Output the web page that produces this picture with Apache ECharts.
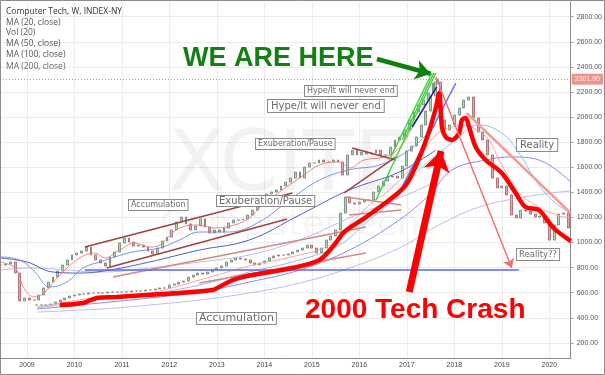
<!DOCTYPE html>
<html><head><meta charset="utf-8">
<script src="https://cdn.jsdelivr.net/npm/echarts@6/dist/echarts.min.js"></script>
<style>html,body{margin:0;padding:0;background:#fff}#c{width:605px;height:375px}</style>
</head><body><div id="c"></div>
<script>
// ---------- data ----------
const yearTicks = [2009,2010,2011,2012,2013,2014,2015,2016,2017,2018,2019,2020];
const priceTicks = [200,400,600,800,1000,1200,1400,1600,1800,2000,2200,2400,2600,2800];
const lastPrice = 2301.9;

// Computer Tech weekly closes, sampled every 0.1 year
const aStart = 2008.45, bStart = 2009.2, step = 0.1;
const aClose = [821,829,845,757,534,558,542,542,582,638,
685,725,773,821,861,901,916,932,964,901,
861,837,813,885,925,996,1036,1004,972,980,
964,932,909,956,1012,1044,1100,1164,1203,1148,
1100,1132,1188,1124,1076,1100,1084,1116,1156,1180,
1180,1188,1219,1259,1307,1355,1387,1403,1419,1451,
1482,1514,1562,1514,1602,1634,1634,1658,1642,1642,
1658,1642,1538,1698,1737,1698,1721,1706,1714,1737,
1698,1698,1761,1817,1841,1897,1977,2040,2096,2136,
2192,2271,2302];
// 2000 tech crash overlay
const bClose = [502,502,502,510,526,542,558,574,582,590,
590,598,598,598,598,606,606,606,606,606,
614,614,614,622,622,630,638,638,661,669,
685,693,725,741,757,749,765,781,797,813,
845,861,877,869,861,837,821,837,853,877,
893,901,901,909,925,940,956,980,956,917,
956,1020,1052,1100,1235,1363,1315,1307,1323,1339,
1339,1403,1451,1490,1522,1530,1514,1610,1729,1769,
1841,1937,2048,2168,2279,1977,1897,1937,2016,2072,
2136,2160,1993,1881,1817,1698,1514,1435,1451,1379,
1219,1196,1259,1251,1227,1203,1211,1156,1020,1140,
1227,1235,1116];

const aMA20 = [[2008.43,845],[2008.75,797],[2008.96,622],[2009.17,566],[2009.38,606],[2009.69,741],[2010.11,877],[2010.43,917],[2010.64,877],[2010.95,940],[2011.27,996],[2011.58,964],[2011.79,980],[2012.21,1116],[2012.63,1140],[2012.95,1116],[2013.37,1140],[2013.68,1196],[2014.00,1315],[2014.32,1403],[2014.74,1514],[2015.16,1618],[2015.58,1642],[2015.79,1594],[2016.10,1658],[2016.52,1682],[2016.84,1753],[2017.15,1937],[2017.47,2136],[2017.61,2232]];
const aMA50 = [[2008.43,885],[2008.85,861],[2009.17,765],[2009.48,646],[2009.84,685],[2010.18,797],[2010.53,845],[2011.23,925],[2011.79,956],[2012.21,1020],[2012.63,1084],[2013.26,1084],[2013.89,1164],[2014.53,1339],[2015.16,1498],[2015.79,1580],[2016.42,1618],[2017.05,1737],[2017.61,1937]];
const aMA100 = [[2008.43,877],[2009.00,845],[2009.55,765],[2010.11,757],[2010.74,781],[2011.58,845],[2012.63,940],[2013.68,1020],[2014.74,1219],[2015.79,1419],[2016.84,1562],[2017.61,1737]];
const aMA200 = [[2008.43,781],[2009.13,797],[2009.84,781],[2010.53,765],[2011.58,797],[2012.63,845],[2013.68,901],[2014.74,1020],[2015.79,1196],[2016.84,1355],[2017.61,1482]];
const bMA20 = [[2009.21,486],[2010.53,566],[2011.58,598],[2012.63,701],[2013.68,813],[2014.74,901],[2015.37,980],[2015.79,1140],[2016.21,1299],[2016.63,1419],[2017.05,1578],[2017.36,1737],[2017.61,1857],[2017.89,1913],[2018.20,1937],[2018.47,1897],[2018.73,1817],[2018.94,1658],[2019.15,1522],[2019.36,1395],[2019.78,1283],[2020.05,1235],[2020.34,1203],[2020.45,1203]];
const bMA50 = [[2009.21,478],[2010.53,550],[2011.58,590],[2012.63,661],[2013.68,765],[2014.74,861],[2015.58,980],[2016.21,1180],[2016.84,1379],[2017.26,1578],[2017.95,1793],[2018.52,1937],[2019.00,1873],[2019.36,1714],[2019.71,1498],[2020.05,1339],[2020.45,1235]];
const bMA100 = [[2009.21,470],[2010.53,518],[2011.58,558],[2012.63,606],[2013.68,685],[2014.74,781],[2015.79,940],[2016.84,1180],[2017.47,1379],[2017.95,1578],[2018.66,1658],[2019.21,1682],[2019.78,1658],[2020.45,1482]];
const bMA200 = [[2009.21,446],[2010.53,470],[2011.58,502],[2012.63,542],[2013.68,598],[2014.74,677],[2015.79,797],[2016.84,956],[2017.68,1140],[2018.52,1283],[2019.36,1355],[2020.05,1395],[2020.45,1411]];
const handTrend = [[2009.69,502],[2010.18,518],[2010.47,558],[2010.89,566],[2011.52,582],[2012.21,598],[2012.91,622],[2013.05,646],[2013.33,701],[2013.75,741],[2014.59,797],[2015.16,861],[2015.47,980],[2015.68,1084],[2016.14,1203],[2016.63,1339],[2016.98,1459],[2017.26,1674],[2017.47,1889],[2017.61,2072],[2017.68,2192],[2017.74,1921],[2017.82,1841],[2017.95,1817],[2018.10,1873],[2018.16,1977],[2018.24,1993],[2018.31,1921],[2018.45,1761],[2018.66,1658],[2019.00,1554],[2019.29,1395],[2019.50,1283],[2019.78,1259],[2020.09,1116],[2020.45,1012]];

const maroonLines = [[[2010.22,964],[2014.59,1395]],[[2010.68,797],[2014.48,1188]],[[2015.68,1395],[2016.77,1682]],[[2015.85,1753],[2016.77,1658]]];
const rosyLines = [[[2010.81,725],[2016.14,1124]],[[2012.63,677],[2016.14,917]],[[2015.72,1363],[2016.88,1299]],[[2015.79,1219],[2016.88,1259]]];
const greenLines = [[[2016.35,1339],[2017.61,2351]],[[2016.63,1658],[2017.53,2351]],[[2016.90,1817],[2017.57,2351]]];
const blueLines = [[[2016.90,1443],[2018.03,2271]]];
const navyLines = [[[2017.11,1921],[2017.63,2240]]];
const salmonLines = [[[2018.26,2032],[2020.45,1235]]];
const supportLine = [[[2010.22,781],[2019.36,781]]];
const realityArrow = [[[2017.61,2319],[2019.21,797]]];
const hereArrow = [[[2016.37,2463],[2017.50,2345]]];
const crashArrow = [[[2017.05,606],[2017.72,1730]]];

// ---------- build ----------
function candles(start, closes){
  return closes.map((c,i)=>{const o = i ? closes[i-1] : c; return [start + i*step, o, c, Math.min(o,c), Math.max(o,c)];});
}
function segs(a){ return a.map(s=>({coords:s})); }
function maLine(data,color,w){
  return {type:'line', data, smooth:0.4, showSymbol:false, silent:true, z:3,
    lineStyle:{color, width:w||1, opacity:0.9}};
}
function lineSet(a,color,w,extra){
  return Object.assign({type:'lines', coordinateSystem:'cartesian2d', polyline:false, silent:true, z:6,
    data:segs(a), lineStyle:{color, width:w, opacity:1}}, extra||{});
}
const candleStyle = {color:'#a6dcb0', color0:'#f2a4a4', borderColor:'#6f7f72', borderColor0:'#9a6060', borderWidth:0.8};

function box(text,x,y,size,pad){
  return {type:'text', x, y, z:100, style:{text, fontFamily:'DejaVu Sans', fontSize:size, fill:'#6b6b6b',
    backgroundColor:'#fff', borderColor:'#8a8a8a', borderWidth:1, padding:pad||[1,3], verticalAlign:'top'}};
}
function legendText(text,y,col){
  return {type:'text', x:6, y, z:100, style:{text, fontFamily:'Open Sans', fontSize:8.5, fill:col||'#555', verticalAlign:'middle'}};
}

const chart = echarts.init(document.getElementById('c'), null, {renderer:'canvas'});
chart.setOption({
  animation:false,
  backgroundColor:'#fff',
  grid:{left:0, right:33, top:2, bottom:17},
  xAxis:{type:'value', min:2008.433, max:2020.45,
    axisLine:{show:true, lineStyle:{color:'#8a8a8a'}},
    axisTick:{show:false, customValues:yearTicks},
    axisLabel:{customValues:yearTicks, formatter:v=>String(Math.round(v)), fontSize:7, color:'#444', margin:4, fontFamily:'Liberation Sans'},
    splitLine:{show:true, lineStyle:{color:'#ececec'}}},
  yAxis:{type:'value', position:'right', min:80, max:2917,
    axisLine:{show:true, lineStyle:{color:'#8a8a8a'}},
    axisTick:{show:true, length:3, customValues:priceTicks, lineStyle:{color:'#aaa'}},
    axisLabel:{customValues:priceTicks, formatter:v=>v.toFixed(2), fontSize:7, color:'#555', margin:6, fontFamily:'Liberation Sans'},
    splitLine:{show:true, lineStyle:{color:'#ececec'}}},
  series:[
    {type:'candlestick', name:'Computer Tech', data:candles(aStart,aClose), barWidth:2.4, itemStyle:candleStyle, z:2, silent:true,
      markLine:{silent:true, symbol:['none','none'], data:[{yAxis:lastPrice}],
        lineStyle:{color:'#f07a70', type:[1,2], width:1, opacity:0.9},
        label:{position:'end', distance:1, formatter:()=>lastPrice.toFixed(2), color:'#fff', backgroundColor:'#ec8a7e', padding:[2,3], fontSize:7, fontFamily:'Liberation Sans'}}},
    {type:'candlestick', name:'2000 overlay', data:candles(bStart,bClose), barWidth:2.4, itemStyle:candleStyle, z:2, silent:true},
    maLine(aMA200,'#b9b3ea'), maLine(aMA100,'#3c4fb8'), maLine(aMA50,'#6f8ae2'), maLine(aMA20,'#f07a7a'),
    maLine(bMA200,'#b9b3ea'), maLine(bMA100,'#7c80d8'), maLine(bMA50,'#8fb0ea'), maLine(bMA20,'#f59a9a'),
    lineSet(maroonLines,'#a0403f',1.5),
    lineSet(rosyLines,'#cf8a86',1.5),
    lineSet(greenLines,'#44d044',1.5),
    lineSet(blueLines,'#6677ee',1.5),
    lineSet(navyLines,'#22229a',1.5),
    lineSet(salmonLines,'#f49a94',2.5),
    lineSet(supportLine,'#5a64f0',1.5),
    {type:'line', data:handTrend, smooth:0.3, showSymbol:false, silent:true, z:7, lineStyle:{color:'#ff0000', width:4.5}},
    lineSet(realityArrow,'#f07070',1.5,{symbol:['none','arrow'], symbolSize:9, z:8}),
    lineSet(hereArrow,'#0e800e',4.5,{symbol:['none','arrow'], symbolSize:15, z:8}),
    lineSet(crashArrow,'#ff0000',7,{symbol:['none','arrow'], symbolSize:20, z:8})
  ],
  graphic:[
    {type:'text', x:168, y:168, z:1, silent:true, style:{text:'XCITE', fontFamily:'DejaVu Sans', fontSize:84, fill:'rgba(0,0,0,0.05)', verticalAlign:'middle'}},
    {type:'text', x:160, y:226, z:1, silent:true, style:{text:'ComputerTech', fontFamily:'DejaVu Sans', fontSize:36, fill:'rgba(0,0,0,0.04)', verticalAlign:'middle'}},
    legendText('Computer Tech, W, INDEX-NY',12,'#333'),
    legendText('MA (20, close)',23),
    legendText('Vol (20)',33),
    legendText('MA (50, close)',44),
    legendText('MA (100, close)',55),
    legendText('MA (200, close)',67,'#666'),
    box('Hype/It will never end',305,86,8,[1,2]),
    box('Hype/It will never end',268,100,10,[1,3]),
    box('Exuberation/Pause',256,139,8,[1,2]),
    box('Exuberation/Pause',217,196,10,[0,2]),
    box('Accumulation',129,200,8,[1,2]),
    box('Accumulation',197,313,11,[0,2]),
    box('Reality',517,139,10,[1,3]),
    box('Reality??',517,249,8.5,[1,2]),
    {type:'text', x:183, y:58.5, z:110, style:{text:'WE ARE HERE', fontFamily:'Liberation Sans', fontWeight:'bold', fontSize:27, fill:'#138013', verticalAlign:'middle'}},
    {type:'text', x:305, y:310.5, z:110, style:{text:'2000 Tech Crash', fontFamily:'Liberation Sans', fontWeight:'bold', fontSize:28, fill:'#ff0000', verticalAlign:'middle'}},
    {type:'rect', z:200, silent:true, shape:{x:0.5, y:0.5, width:604, height:374}, style:{fill:'none', stroke:'#8c8c8c', lineWidth:1}}
  ]
});
</script></body></html>
